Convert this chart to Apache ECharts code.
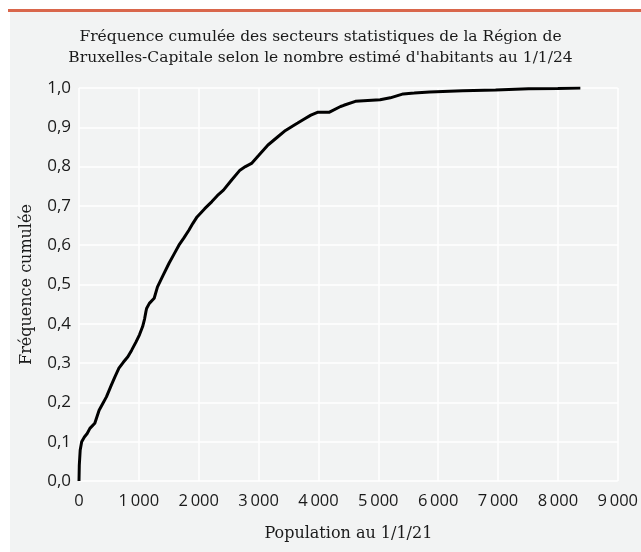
<!DOCTYPE html>
<html><head><meta charset="utf-8">
<script src="https://cdn.jsdelivr.net/npm/echarts@6/dist/echarts.min.js"></script>
<style>html,body{margin:0;padding:0;background:#fff}#c{width:641px;height:552px}</style>
</head><body><div id="c"></div>
<script>
const titleLines = ["Fréquence cumulée des secteurs statistiques de la Région de", "Bruxelles-Capitale selon le nombre estimé d'habitants au 1/1/24"];
const xAxisName = "Population au 1/1/21";
const yAxisName = "Fréquence cumulée";
const population = [0, 5, 20, 45, 90, 137, 182, 264, 336, 400, 458, 540, 600, 667, 740, 816, 880, 953, 1010, 1063, 1095, 1118, 1129, 1175, 1256, 1311, 1400, 1504, 1590, 1669, 1750, 1835, 1900, 1972, 2100, 2220, 2310, 2413, 2550, 2689, 2780, 2882, 3000, 3157, 3322, 3450, 3598, 3653, 3750, 3873, 3983, 4038, 4176, 4203, 4369, 4424, 4617, 4645, 5030, 5200, 5416, 5600, 5857, 6408, 6959, 7510, 8000, 8375];
const frequency = [0, 0.04, 0.079, 0.1, 0.112, 0.121, 0.134, 0.147, 0.18, 0.198, 0.214, 0.244, 0.265, 0.287, 0.302, 0.316, 0.333, 0.354, 0.372, 0.393, 0.412, 0.431, 0.439, 0.452, 0.465, 0.494, 0.522, 0.554, 0.578, 0.6, 0.618, 0.638, 0.655, 0.672, 0.693, 0.711, 0.726, 0.74, 0.766, 0.791, 0.8, 0.808, 0.828, 0.855, 0.876, 0.892, 0.906, 0.911, 0.92, 0.931, 0.938, 0.938, 0.938, 0.94, 0.953, 0.956, 0.966, 0.966, 0.97, 0.975, 0.985, 0.987, 0.99, 0.993, 0.995, 0.998, 0.999, 1.0];
const xTicks = [0, 1000, 2000, 3000, 4000, 5000, 6000, 7000, 8000, 9000];

const chart = echarts.init(document.getElementById('c'), null, {renderer: 'canvas'});
const fmtX = v => v >= 1000 ? Math.floor(v/1000) + '\u2009' + String(v % 1000).padStart(3, '0') : String(v);
chart.setOption({
  animation: false,
  backgroundColor: '#ffffff',
  graphic: [
    {type: 'rect', left: 10, top: 12, shape: {width: 631, height: 540}, style: {fill: '#f2f3f3'}, z: -10},
    {type: 'rect', left: 8, top: 9, shape: {width: 633, height: 3}, style: {fill: '#d9664b'}, z: -10}
  ],
  title: {
    text: titleLines.join('\n'),
    left: 'center', top: 21,
    textStyle: {fontFamily: 'DejaVu Serif', fontWeight: 'normal', fontSize: 15.5, color: '#1a1a1a', lineHeight: 21}
  },
  grid: {left: 79, right: 17, top: 88, bottom: 71, containLabel: false},
  xAxis: {
    type: 'value', min: 0, max: 9000, interval: 1000,
    name: xAxisName, nameLocation: 'middle', nameGap: 45,
    nameTextStyle: {fontFamily: 'DejaVu Serif', fontSize: 16, color: '#1a1a1a'},
    axisLine: {show: false}, axisTick: {show: false},
    axisLabel: {fontFamily: 'Open Sans', fontSize: 16.5, color: '#1a1a1a', margin: 12, formatter: v => fmtX(v)},
    splitLine: {show: true, lineStyle: {color: '#ffffff', width: 1.5}}
  },
  yAxis: {
    type: 'value', min: 0, max: 1, interval: 0.1,
    name: yAxisName, nameLocation: 'middle', nameGap: 44, nameRotate: 90,
    nameTextStyle: {fontFamily: 'DejaVu Serif', fontSize: 16, color: '#1a1a1a'},
    axisLine: {show: false}, axisTick: {show: false},
    axisLabel: {fontFamily: 'Open Sans', fontSize: 17, color: '#1a1a1a', margin: 8, formatter: v => v.toFixed(1).replace('.', ',')},
    splitLine: {show: true, lineStyle: {color: '#ffffff', width: 1.5}}
  },
  series: [{
    type: 'line',
    data: population.map((p, i) => [p, frequency[i]]),
    showSymbol: false, symbol: 'none',
    lineStyle: {color: '#000', width: 3},
    smooth: false
  }]
});
</script></body></html>
